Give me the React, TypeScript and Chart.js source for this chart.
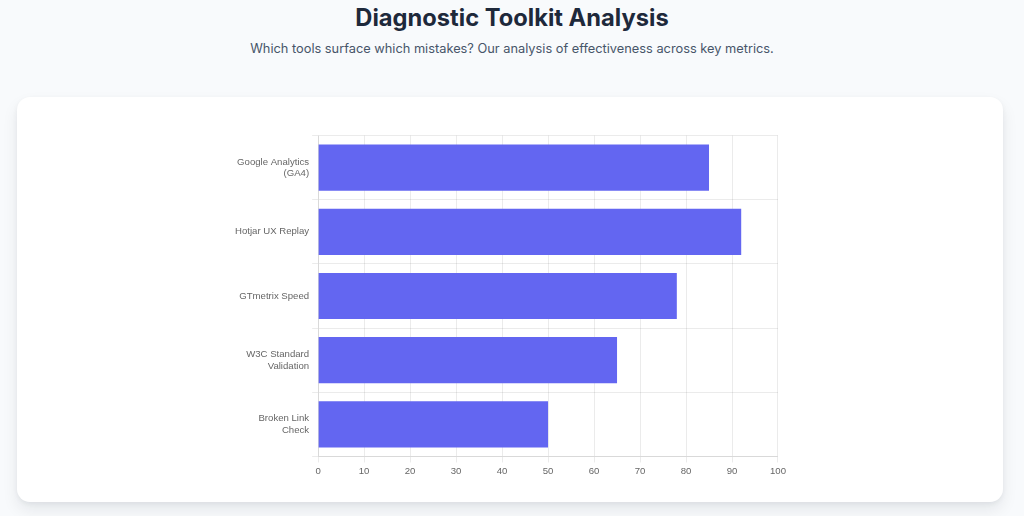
import React, { useEffect, useRef } from "react";
import { Chart, registerables } from "chart.js";

Chart.register(...registerables);

const categories: (string | string[])[] = [
  ["Google Analytics", "(GA4)"],
  "Hotjar UX Replay",
  "GTmetrix Speed",
  ["W3C Standard", "Validation"],
  ["Broken Link", "Check"],
];
const effectiveness = [85, 92, 78, 65, 50];
const xMin = 0;
const xMax = 100;
const xStep = 10;

export default function App() {
  const ref = useRef<HTMLCanvasElement | null>(null);

  useEffect(() => {
    if (!ref.current) return;
    const chart = new Chart(ref.current, {
      type: "bar",
      data: {
        labels: categories,
        datasets: [
          {
            label: "Effectiveness",
            data: effectiveness,
            backgroundColor: "#6366f1",
            borderWidth: 0,
          },
        ],
      },
      options: {
        indexAxis: "y",
        animation: false,
        responsive: true,
        maintainAspectRatio: false,
        plugins: { legend: { display: false }, tooltip: { enabled: false } },
        layout: { padding: 0 },
        scales: {
          x: {
            min: xMin,
            max: xMax,
            ticks: { stepSize: xStep, color: "#666", font: { size: 9.6 } },
            grid: { color: "rgba(0,0,0,0.08)", tickLength: 6 },
            border: { color: "rgba(0,0,0,0.08)" },
          },
          y: {
            ticks: { color: "#666", font: { size: 9.6 } },
            grid: { color: "rgba(0,0,0,0.08)", tickLength: 6 },
            border: { color: "rgba(0,0,0,0.08)" },
          },
        },
      },
    });
    return () => chart.destroy();
  }, []);

  return (
    <div
      style={{
        position: "fixed",
        left: 0,
        top: 0,
        width: 1024,
        height: 516,
        background: "#f8fafc",
        fontFamily: "Inter, sans-serif",
        overflow: "hidden",
      }}
    >
      <div
        style={{
          position: "absolute",
          top: 3,
          left: 0,
          width: 1024,
          textAlign: "center",
          fontSize: 23.7,
          fontWeight: 700,
          color: "#1e293b",
          lineHeight: "30px",
        }}
      >
        Diagnostic Toolkit Analysis
      </div>
      <div
        style={{
          position: "absolute",
          top: 40,
          left: 0,
          width: 1024,
          textAlign: "center",
          fontSize: 12.8,
          color: "#475569",
          lineHeight: "18px",
        }}
      >
        Which tools surface which mistakes? Our analysis of effectiveness across key metrics.
      </div>
      <div
        style={{
          position: "absolute",
          left: 17,
          top: 97,
          width: 986,
          height: 405,
          background: "#ffffff",
          borderRadius: 13,
          boxShadow: "0 8px 16px rgba(15,23,42,0.08), 0 2px 5px rgba(15,23,42,0.05)",
        }}
      >
        <div
          style={{
            position: "absolute",
            left: 215,
            top: 24,
            width: 557,
            height: 359,
          }}
        >
          <canvas ref={ref} />
        </div>
      </div>
    </div>
  );
}
